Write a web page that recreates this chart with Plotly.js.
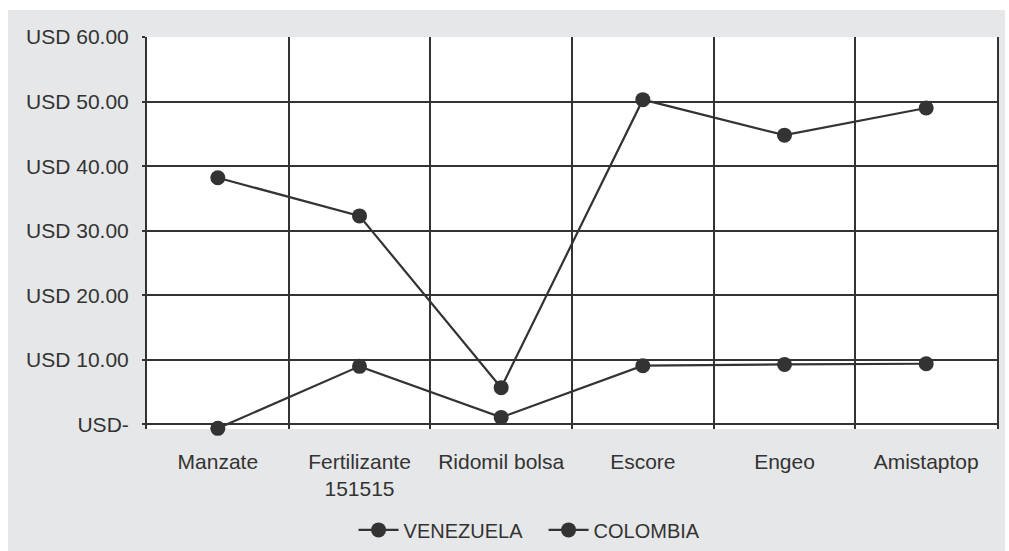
<!DOCTYPE html>
<html><head><meta charset="utf-8">
<script src="https://cdn.plot.ly/plotly-3.0.1.min.js"></script>
<style>html,body{margin:0;padding:0;background:#fff;}#c{position:absolute;left:8px;top:10px;width:997px;height:541px;}</style>
</head><body><div id="c"></div>
<script>
const categories = ['Manzate', 'Fertilizante<br>151515', 'Ridomil bolsa', 'Escore', 'Engeo', 'Amistaptop'];
const venezuela = [38.2, 32.3, 5.7, 50.3, 44.8, 49.0];
const colombia = [-0.6, 9.0, 1.1, 9.1, 9.3, 9.4];
const yTickVals = [0, 10, 20, 30, 40, 50, 60];
const yTickText = ['USD-', 'USD 10.00', 'USD 20.00', 'USD 30.00', 'USD 40.00', 'USD 50.00', 'USD 60.00'];

const col = '#333333';
const mk = (name, y) => ({
  type: 'scatter', mode: 'lines+markers', name: name, x: categories, y: y,
  line: {color: col, width: 2.2}, marker: {color: col, size: 15}, cliponaxis: false
});
const data = [mk('VENEZUELA', venezuela), mk('COLOMBIA', colombia)];
const layout = {
  width: 997, height: 541,
  paper_bgcolor: '#e6e7e8', plot_bgcolor: '#ffffff',
  margin: {l: 139, r: 8, t: 27, b: 121.5},
  font: {family: 'Liberation Sans, Arial, sans-serif', size: 21, color: '#333333'},
  showlegend: true,
  legend: {orientation: 'h', x: 0.243, xanchor: 'left', yref: 'container', y: 0.039, yanchor: 'middle', entrywidth: 135,
           itemwidth: 40,
           font: {size: 20, color: '#333333'}, bgcolor: 'rgba(0,0,0,0)', tracegroupgap: 0},
  xaxis: {type: 'category', range: [-0.5, 5.5], tickson: 'boundaries', showgrid: true, gridcolor: col, gridwidth: 2,
          showline: false, ticks: '', ticklabelstandoff: 18,
          zeroline: false, fixedrange: true, automargin: false},
  yaxis: {range: [-0.7, 60], tickvals: yTickVals, ticktext: yTickText, showgrid: true, gridcolor: col, gridwidth: 2,
          showline: true, linecolor: col, linewidth: 2, mirror: true,
          ticks: 'outside', ticklen: 3, tickcolor: col, tickwidth: 2,
          ticklabelstandoff: 9, zeroline: true, zerolinecolor: col, zerolinewidth: 2, fixedrange: true, automargin: false}
};
Plotly.newPlot('c', data, layout, {displayModeBar: false, staticPlot: true});
</script></body></html>
